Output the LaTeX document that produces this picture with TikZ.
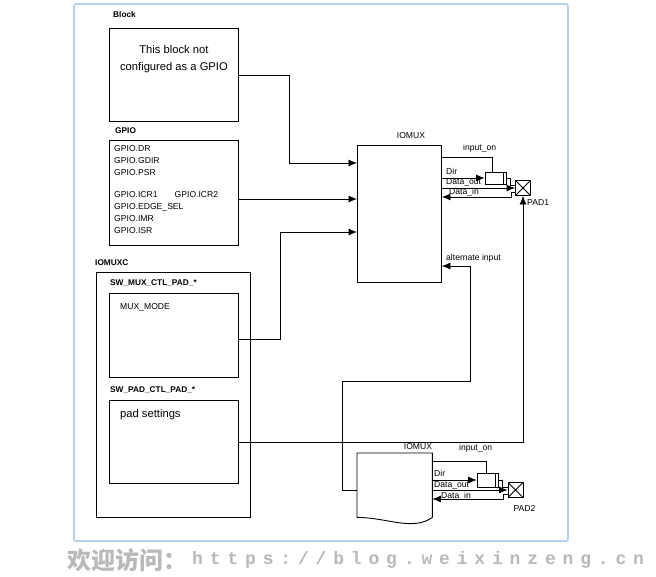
\documentclass[tikz,border=0pt]{standalone}
\usepackage{fontspec}
\setmainfont{Liberation Sans}
\newfontfamily\cjkfont{Noto Sans CJK SC}
\newfontfamily\wmfont{Liberation Mono}
\usetikzlibrary{arrows.meta}
\definecolor{frameblue}{RGB}{178,208,240}

\begin{document}
\begin{tikzpicture}[
  x=1pt, y=-1pt,
  every node/.style={inner sep=0pt, font=\fontsize{8.6}{12}\selectfont},
  box/.style={draw, line width=0.9pt, anchor=north west, minimum width=129pt},
  heading/.style={anchor=west, font=\fontsize{8.3}{10}\selectfont\bfseries},
  small/.style={anchor=west},
  bigtext/.style={font=\fontsize{11.2}{17}\selectfont, align=center},
  wire/.style={draw, line width=0.8pt},
  arr/.style={wire, -{Latex[length=8.5pt,width=7pt]}},
  buffer/.style={draw, line width=0.8pt, minimum width=21pt, minimum height=12pt,
    path picture={\draw ([xshift=-3pt]path picture bounding box.north east)
      -- ([xshift=-3pt]path picture bounding box.south east);}},
  padbox/.style={draw, line width=0.9pt, minimum size=15pt,
    path picture={\draw (path picture bounding box.north west) -- (path picture bounding box.south east)
      (path picture bounding box.north east) -- (path picture bounding box.south west);}},
  watermark/.style={anchor=west, text=gray!55}
]
\useasboundingbox (0,0) rectangle (656,577);
\fill[white] (0,0) rectangle (656,577);

% frame
\draw[frameblue, line width=1.6pt, rounded corners=2pt] (74,4) rectangle (568,541);

% Block
\node[heading] (blklbl) at (113,15) {Block};
\node[box, minimum height=93pt] (blk) at (109,28) {};
\node[bigtext, anchor=north] (blktxt) at ([yshift=-17pt]blk.north) {This block not\\configured as a GPIO};

% GPIO
\node[heading] (gpiolbl) at (115,131) {GPIO};
\node[box, minimum height=105pt] (gpio) at (109,140) {};
\node[anchor=north west, align=left] (gpiotxt) at (114,145) {GPIO.DR\\GPIO.GDIR\\GPIO.PSR\\[10pt]GPIO.ICR1\hspace{17pt}GPIO.ICR2\\GPIO.EDGE\_SEL\\GPIO.IMR\\GPIO.ISR};

% IOMUXC
\node[heading] (iomuxclbl) at (95,263) {IOMUXC};
\node[box, minimum width=154pt, minimum height=245pt] (iomuxc) at (96,272) {};
\node[heading] (muxlbl) at (110,283) {SW\_MUX\_CTL\_PAD\_*};
\node[box, minimum height=84pt] (mux) at (109,293) {};
\node[small] (muxtxt) at (120,307) {MUX\_MODE};
\node[heading] (padlbl) at (110,390) {SW\_PAD\_CTL\_PAD\_*};
\node[box, minimum height=83pt] (padset) at (109,400) {};
\node[small, font=\fontsize{11.2}{13}\selectfont] (padtxt) at (120,415) {pad settings};

% IOMUX
\node[box, minimum width=84pt, minimum height=137pt] (iomux1) at (357,145) {};
\node (iomux1lbl) at (411,136) {IOMUX};
\node[anchor=north west, minimum width=75pt, minimum height=64pt] (iomux2) at (357,453) {};
\draw[line width=0.9pt] (iomux2.south east) -- (iomux2.north east) -- (iomux2.north west) -- (iomux2.south west)
  .. controls +(30,0) and +(-20,14) .. (iomux2.south east);
\node (iomux2lbl) at (418,447) {IOMUX};

% into IOMUX
\draw[arr] (blk.east) -- ++(50,0) |- (iomux1.west |- 0,163);
\draw[arr] (gpio.east |- 0,199) -- (iomux1.west |- 0,199);
\draw[arr] ([yshift=-4pt]mux.east) -- ++(41,0) |- (iomux1.west |- 0,232);
\draw[arr] ([yshift=-5pt]iomux2.west) -- ++(-15,0) |- (470,381) |- (iomux1.east |- 0,266);
\node[small] (altlbl) at (446,258) {alternate input};

% PAD1
\node[buffer] (buf1) at (495.5,178) {};
\node[padbox] (pad1) at (523,188) {};
\node[anchor=north west] (pad1lbl) at (527,199) {PAD1};
\node[small] (on1lbl) at (463,148) {input\_on};
\node[small] (dir1lbl) at (446,171) {Dir};
\node[small] (out1lbl) at (446,182) {Data\_out};
\node[small] (in1lbl) at (449,192) {Data\_in};
\draw[wire] (iomux1.east |- 0,157) -| ([xshift=-3.5pt]buf1.north);
\draw[arr] (iomux1.east |- buf1.west) -- (buf1.west);
\draw[wire] (buf1.east) -- ++(4,0) |- ([yshift=3pt]pad1.west);
\draw[arr] (iomux1.east |- pad1.west) -- (pad1.west);
\draw[arr] ([yshift=-4pt]pad1.west) -- ++(-4,0) |- (iomux1.east |- 0,197);
\draw[arr] (padset.east) -| (pad1.south);

% PAD2
\node[buffer, minimum height=14pt] (buf2) at (487.5,480) {};
\node[padbox] (pad2) at (515.5,490) {};
\node (pad2lbl) at (524.5,508) {PAD2};
\node[small] (on2lbl) at (459,448) {input\_on};
\node[small] (dir2lbl) at (434,473) {Dir};
\node[small] (out2lbl) at (434,485) {Data\_out};
\node[small] (in2lbl) at (441,496) {Data\_in};
\draw[wire] (iomux2.east |- 0,461) -| ([xshift=-1.5pt]buf2.north);
\draw[arr] (iomux2.east |- buf2.west) -- (buf2.west);
\draw[wire] (buf2.east) -- ++(4,0) |- ([yshift=3pt]pad2.west);
\draw[arr] (iomux2.east |- pad2.west) -- (pad2.west);
\draw[arr] ([yshift=-4pt]pad2.west) -- ++(-4,0) |- (iomux2.east |- 0,499);

% watermark
\node[watermark, font=\cjkfont\bfseries\fontsize{24}{24}\selectfont] (wmcn) at (67,560) {欢迎访问：};
\node[watermark, font=\wmfont\bfseries\fontsize{18}{18}\selectfont\addfontfeature{LetterSpace=38}] (wmurl) at (192,560) {https://blog.weixinzeng.cn};
\end{tikzpicture}
\end{document}
